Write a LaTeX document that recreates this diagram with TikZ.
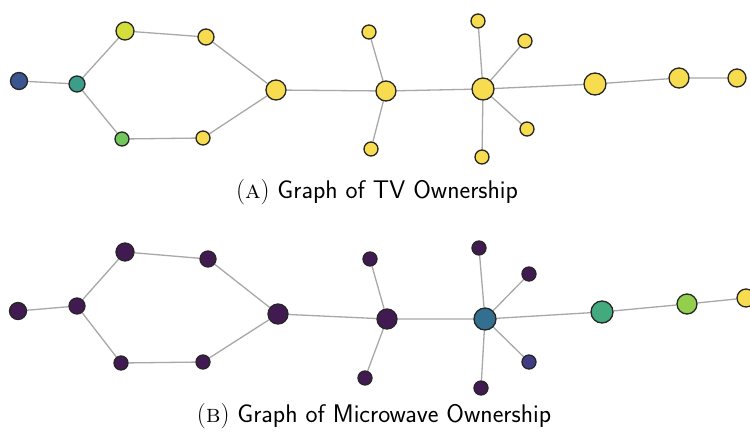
\documentclass[tikz,border=0pt]{standalone}
\usetikzlibrary{backgrounds}
\definecolor{vyel}{HTML}{F6DC4E}
\definecolor{vyg}{HTML}{D3DD3C}
\definecolor{vgr}{HTML}{72C65C}
\definecolor{vteal}{HTML}{3A9E88}
\definecolor{vblue}{HTML}{3A5590}
\definecolor{vpur}{HTML}{421A52}
\definecolor{vpur2}{HTML}{3F3C84}
\definecolor{vhub}{HTML}{33708F}
\definecolor{vgreen2}{HTML}{43AA7E}
\definecolor{vlime}{HTML}{93CF4C}
\definecolor{edgegray}{HTML}{A8A8A8}
\tikzset{
  vx/.style={circle, draw=black!85, line width=1.3pt, inner sep=0pt, minimum size=#1},
  vx/.default=14pt,
  lk/.style={draw=edgegray, line width=1.3pt},
  captext/.style={font=\fontsize{25.5}{30}\selectfont, anchor=center}
}
\begin{document}
\begin{tikzpicture}[x=1pt,y=-1pt]
\useasboundingbox (0,0) rectangle (750,432);
% ---------- (A) ----------
\node[vx=17pt, fill=vblue] (a1) at (19,81) {};
\node[vx=16pt, fill=vteal] (a2) at (77,84) {};
\node[vx=18pt, fill=vyg] (a3) at (125,31) {};
\node[vx=16pt, fill=vyel] (a4) at (206,37) {};
\node[vx=14pt, fill=vgr] (a5) at (122,139) {};
\node[vx=14pt, fill=vyel] (a6) at (203,138) {};
\node[vx=20pt, fill=vyel] (a7) at (276,90) {};
\node[vx=20pt, fill=vyel] (a8) at (386,91) {};
\node[vx=14pt, fill=vyel] (a9) at (369,32) {};
\node[vx=14pt, fill=vyel] (a10) at (371,149) {};
\node[vx=22pt, fill=vyel] (a11) at (483,89) {};
\node[vx=14pt, fill=vyel] (a12) at (478,21) {};
\node[vx=14pt, fill=vyel] (a13) at (525,41) {};
\node[vx=14pt, fill=vyel] (a14) at (527,129) {};
\node[vx=14pt, fill=vyel] (a15) at (482,157) {};
\node[vx=22pt, fill=vyel] (a16) at (595,84) {};
\node[vx=20pt, fill=vyel] (a17) at (679,78) {};
\node[vx=18pt, fill=vyel] (a18) at (737,78) {};
\begin{scope}[on background layer]
\draw[lk] (a1)--(a2) (a2)--(a3) (a2)--(a5) (a3)--(a4) (a5)--(a6) (a4)--(a7) (a6)--(a7)
  (a7)--(a8) (a8)--(a9) (a8)--(a10) (a8)--(a11) (a11)--(a12) (a11)--(a13) (a11)--(a14)
  (a11)--(a15) (a11)--(a16) (a16)--(a17) (a17)--(a18);
\end{scope}
\node[captext] (capA) at (377,192) {\textrm{(\textsc{a})} \textsf{Graph of TV Ownership}};
% ---------- (B) ----------
\node[vx=17pt, fill=vpur] (b1) at (18,311) {};
\node[vx=16pt, fill=vpur] (b2) at (77,306) {};
\node[vx=18pt, fill=vpur] (b3) at (125,252) {};
\node[vx=16pt, fill=vpur] (b4) at (208,259) {};
\node[vx=14pt, fill=vpur] (b5) at (121,363) {};
\node[vx=14pt, fill=vpur] (b6) at (203,362) {};
\node[vx=20pt, fill=vpur] (b7) at (278,314) {};
\node[vx=20pt, fill=vpur] (b8) at (387,319) {};
\node[vx=14pt, fill=vpur] (b9) at (370,259) {};
\node[vx=14pt, fill=vpur] (b10) at (365,378) {};
\node[vx=22pt, fill=vhub] (b11) at (485,319) {};
\node[vx=14pt, fill=vpur] (b12) at (479,248) {};
\node[vx=14pt, fill=vpur] (b13) at (529,274) {};
\node[vx=14pt, fill=vpur2] (b14) at (529,362) {};
\node[vx=14pt, fill=vpur] (b15) at (481,388) {};
\node[vx=22pt, fill=vgreen2] (b16) at (602,312) {};
\node[vx=20pt, fill=vlime] (b17) at (687,304) {};
\node[vx=18pt, fill=vyel] (b18) at (746,298) {};
\begin{scope}[on background layer]
\draw[lk] (b1)--(b2) (b2)--(b3) (b2)--(b5) (b3)--(b4) (b5)--(b6) (b4)--(b7) (b6)--(b7)
  (b7)--(b8) (b8)--(b9) (b8)--(b10) (b8)--(b11) (b11)--(b12) (b11)--(b13) (b11)--(b14)
  (b11)--(b15) (b11)--(b16) (b16)--(b17) (b17)--(b18);
\end{scope}
\node[captext] (capB) at (374,416) {\textrm{(\textsc{b})} \textsf{Graph of Microwave Ownership}};
\end{tikzpicture}
\end{document}
